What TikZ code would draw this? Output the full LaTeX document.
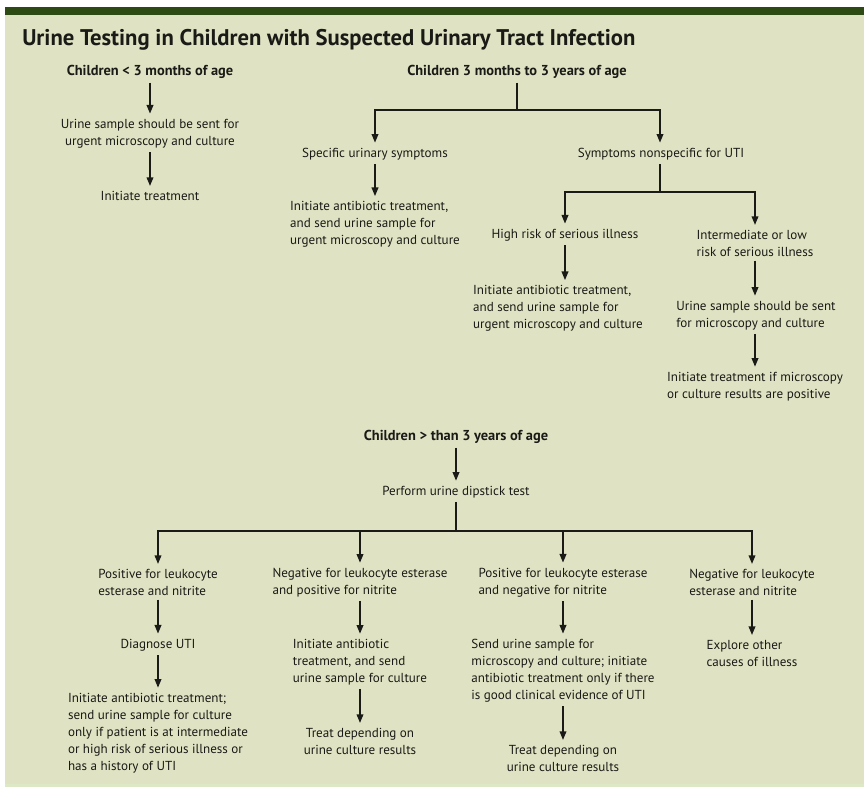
\documentclass[tikz,border=0pt]{standalone}
\usepackage{fontspec}
\setmainfont{PT Sans}
\usetikzlibrary{arrows.meta}
\definecolor{barc}{HTML}{2E4A14}
\definecolor{bgc}{HTML}{E0E3C3}
\definecolor{bgl}{HTML}{DCE8C6}
\definecolor{ink}{HTML}{1A1A16}
\begin{document}
\begin{tikzpicture}[x=0.75pt,y=-0.75pt,
  txt/.style={font=\fontsize{9.8}{12.75}\selectfont, inner sep=0pt, outer sep=0pt, text=ink},
  hd/.style={txt, font=\fontsize{10.8}{12.75}\selectfont\bfseries},
  L/.style={txt, align=left},
  C/.style={txt, align=center},
  ln/.style={draw=ink, line width=1.2pt},
  arr/.style={ln, -{Triangle[length=6.5pt,width=5pt]}, shorten <=3pt, shorten >=4pt},
  brarr/.style={ln, -{Triangle[length=6.5pt,width=5pt]}, shorten >=4pt}]
\fill[white] (0,0) rectangle (864,787);
\fill[bgc] (5,15) rectangle (864,784);
\fill[bgl] (5,784) rectangle (864,787);
\fill[barc] (5,7) rectangle (864,15);
\useasboundingbox (0,0) rectangle (864,787);

\node[anchor=west, inner sep=0pt, text=ink, font=\fontsize{17}{20}\selectfont\bfseries] (title) at (22,40)
  {Urine Testing in Children with Suspected Urinary Tract Infection};

% left column
\node[hd] (a1) at (150,72) {Children < 3 months of age};
\node[C] (a2) at (150,133.5) {Urine sample should be sent for\\urgent microscopy and culture};
\node[C] (a3) at (150,196) {Initiate treatment};
\draw[arr] (a1.south) -- (a2.north);
\draw[arr] (a2.south) -- (a3.north);

% middle
\node[hd] (b1) at (517,72) {Children 3 months to 3 years of age};
\node[txt] (b2) at (375,154) {Specific urinary symptoms};
\node[L] (b3) at (375,224.5) {Initiate antibiotic treatment,\\and send urine sample for\\urgent microscopy and culture};
\node[txt] (b4) at (661,154) {Symptoms nonspecific for UTI};
\node[txt] (b5) at (565,235) {High risk of serious illness};
\node[L] (b6) at (558,308.5) {Initiate antibiotic treatment,\\and send urine sample for\\urgent microscopy and culture};
\node[L] (b7) at (755,243.5) {Intermediate or low\\risk of serious illness};
\node[L] (b8) at (756,315.5) {Urine sample should be sent\\for microscopy and culture};
\node[L] (b9) at (755,386.5) {Initiate treatment if microscopy\\or culture results are positive};
\coordinate (jb) at (517,110);
\coordinate (jn) at (660,192);
\coordinate (xr) at (755,0);
\draw[ln, shorten <=3pt] (b1.south) -- (jb);
\draw[brarr] (jb) -| (b2.north);
\draw[brarr] (jb) -| (b4.north -| jn);
\draw[arr] (b2.south) -- (b3.north);
\draw[ln, shorten <=3pt] (b4.south -| jn) -- (jn);
\draw[brarr] (jn) -| (b5.north);
\draw[brarr] (jn) -| (b7.north -| xr);
\draw[arr] (b5.south) -- (b5.south |- b6.north);
\draw[arr] (b7.south -| xr) -- (b8.north -| xr);
\draw[arr] (b8.south -| xr) -- (b9.north -| xr);

% bottom
\node[hd] (c1) at (456,437) {Children > than 3 years of age};
\node[txt] (c2) at (456,492) {Perform urine dipstick test};
\coordinate (jc) at (456,531);
\draw[arr] (c1.south) -- (c2.north);
\draw[ln, shorten <=3pt] (c2.south) -- (jc);

\node[L] (d1) at (158,582.5) {Positive for leukocyte\\esterase and nitrite};
\node[txt] (d2) at (158,645) {Diagnose UTI};
\node[L] (d3) at (158,733) {Initiate antibiotic treatment;\\send urine sample for culture\\only if patient is at intermediate\\or high risk of serious illness or\\has a history of UTI};

\node[L] (e1) at (360,582.5) {Negative for leukocyte esterase\\and positive for nitrite};
\node[L] (e2) at (360,662) {Initiate antibiotic\\treatment, and send\\urine sample for culture};
\node[C] (e3) at (360,741.5) {Treat depending on\\urine culture results};

\node[L] (f1) at (563,582.5) {Positive for leukocyte esterase\\and negative for nitrite};
\node[L] (f2) at (563,670.5) {Send urine sample for\\microscopy and culture; initiate\\antibiotic treatment only if there\\is good clinical evidence of UTI};
\node[C] (f3) at (563,758.5) {Treat depending on\\urine culture results};

\node[L] (g1) at (752,582.5) {Negative for leukocyte\\esterase and nitrite};
\node[L] (g2) at (752,653.5) {Explore other\\causes of illness};

\draw[brarr] (jc) -| (d1.north);
\draw[brarr] (jc) -| (e1.north);
\draw[brarr] (jc) -| (f1.north);
\draw[brarr] (jc) -| (g1.north);
\draw[arr] (d1.south) -- (d2.north);
\draw[arr] (d2.south) -- (d3.north);
\draw[arr] (e1.south) -- (e2.north);
\draw[arr] (e2.south) -- (e3.north);
\draw[arr] (f1.south) -- (f2.north);
\draw[arr] (f2.south) -- (f3.north);
\draw[arr] (g1.south) -- (g2.north);
\end{tikzpicture}
\end{document}
